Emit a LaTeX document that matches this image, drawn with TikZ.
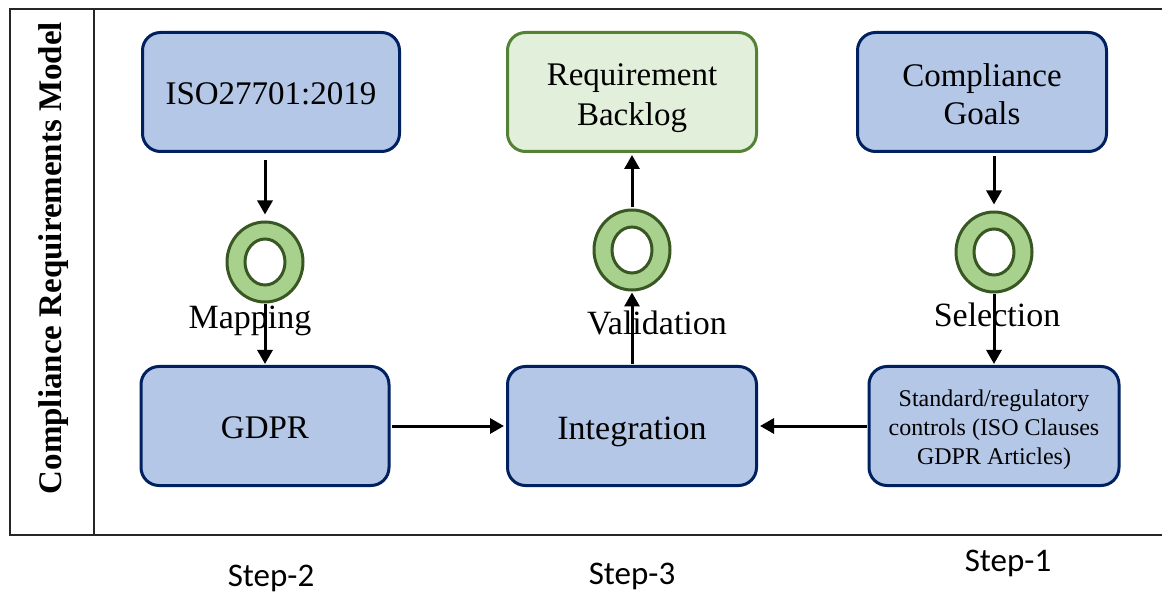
\documentclass[tikz,border=0pt]{standalone}
\usepackage{fontspec}
\setmainfont{Liberation Serif}
\newfontfamily\stepfont{Carlito}
\usepackage{xcolor}
\usetikzlibrary{shapes.geometric, arrows.meta, positioning}
\definecolor{boxblue}{RGB}{180, 199, 231}
\definecolor{boxnavy}{RGB}{0, 32, 96}
\definecolor{palegreen}{RGB}{226, 239, 218}
\definecolor{leafgreen}{RGB}{84, 130, 53}
\definecolor{ringgreen}{RGB}{169, 209, 142}
\definecolor{darkgreen}{RGB}{56, 87, 35}
\newcommand{\padtop}[1]{\rule{0pt}{#1}}

\begin{document}
\begin{tikzpicture}[x=1pt, y=-1pt]
    % Styles
    \tikzstyle{stdbox} = [rectangle, rounded corners=18pt, minimum width=249pt, minimum height=119pt, text centered, align=center, draw=boxnavy, line width=3pt, fill=boxblue, font=\fontsize{33}{38}\selectfont]
    \tikzstyle{goalbox} = [stdbox, draw=leafgreen, fill=palegreen]
    \tikzstyle{ring} = [ellipse, minimum width=76pt, minimum height=80pt, inner sep=0pt, draw=darkgreen, line width=3pt, fill=ringgreen]
    \tikzstyle{hole} = [ellipse, minimum width=40pt, minimum height=46pt, inner sep=0pt, draw=darkgreen, line width=3pt, fill=white]
    \tikzstyle{flow} = [line width=3pt, -{Triangle[width=15pt, length=14pt]}]
    \tikzstyle{act} = [font=\fontsize{34}{40}\selectfont, inner sep=0pt]
    \tikzstyle{steplbl} = [font=\stepfont\fontsize{33}{40}\selectfont, inner sep=0pt]

    \useasboundingbox (0,0) rectangle (1162,593);

    % Frame
    \draw[line width=1.5pt, black!85] (1162,9) -- (10,9) -- (10,535) -- (1162,535);
    \draw[line width=1.5pt, black!85] (94,9) -- (94,535);
    \node (model) [rotate=90, font=\fontsize{33}{40}\selectfont\bfseries] at (54,258) {Compliance Requirements Model};

    % Nodes
    \node (iso) [stdbox, minimum width=257pt] at (271,92) {\padtop{25pt}ISO27701:2019};
    \node (backlog) [goalbox, font=\fontsize{33}{40}\selectfont] at (632,92) {\padtop{34pt}Requirement\\Backlog};
    \node (goals) [stdbox] at (982,92) {\padtop{27.5pt}Compliance\\Goals};

    \node (gdpr) [stdbox, minimum width=248pt] at (265,426) {\padtop{26pt}GDPR};
    \node (integ) [stdbox, font=\fontsize{34}{40}\selectfont] at (632,426) {\padtop{34.5pt}Integration};
    \node (std) [stdbox, minimum width=250pt, font=\fontsize{24}{29}\selectfont] at (994,426) {\padtop{23.5pt}Standard/regulatory\\controls (ISO Clauses\\GDPR Articles)};

    \node (mapring) [ring] at (265,262) {};
    \node (maphole) [hole] at (mapring) {};
    \node (valring) [ring] at (632,250) {};
    \node (valhole) [hole] at (valring) {};
    \node (selring) [ring] at (994,252) {};
    \node (selhole) [hole] at (selring) {};

    \node (maplbl) [act] at (250,321) {Mapping};
    \node (vallbl) [act] at (657,323) {Validation};
    \node (sellbl) [act] at (997,315) {Selection};

    \node (step2) [steplbl] at (271,578) {Step-2};
    \node (step3) [steplbl] at (632,576) {Step-3};
    \node (step1) [steplbl] at (1008,563) {Step-1};

    % Connections
    \draw[flow, shorten <=7pt, shorten >=6pt] (iso.south -| mapring.north) -- (mapring.north);
    \draw[flow, shorten <=1pt, shorten >=1pt] (mapring.south) -- (gdpr.north);
    \draw[flow, shorten <=1pt, shorten >=1pt] (integ.north) -- (valring.south);
    \draw[flow, shorten <=1pt, shorten >=2pt] (valring.north) -- (backlog.south);
    \draw[flow, shorten <=3pt, shorten >=6pt] (goals.south -| selring.north) -- (selring.north);
    \draw[flow, shorten <=1pt, shorten >=1pt] (selring.south) -- (std.north);
    \draw[flow, shorten <=1pt, shorten >=2pt] (gdpr.east) -- (integ.west);
    \draw[flow, shorten <=1pt, shorten >=2pt] (std.west) -- (integ.east);
\end{tikzpicture}
\end{document}
